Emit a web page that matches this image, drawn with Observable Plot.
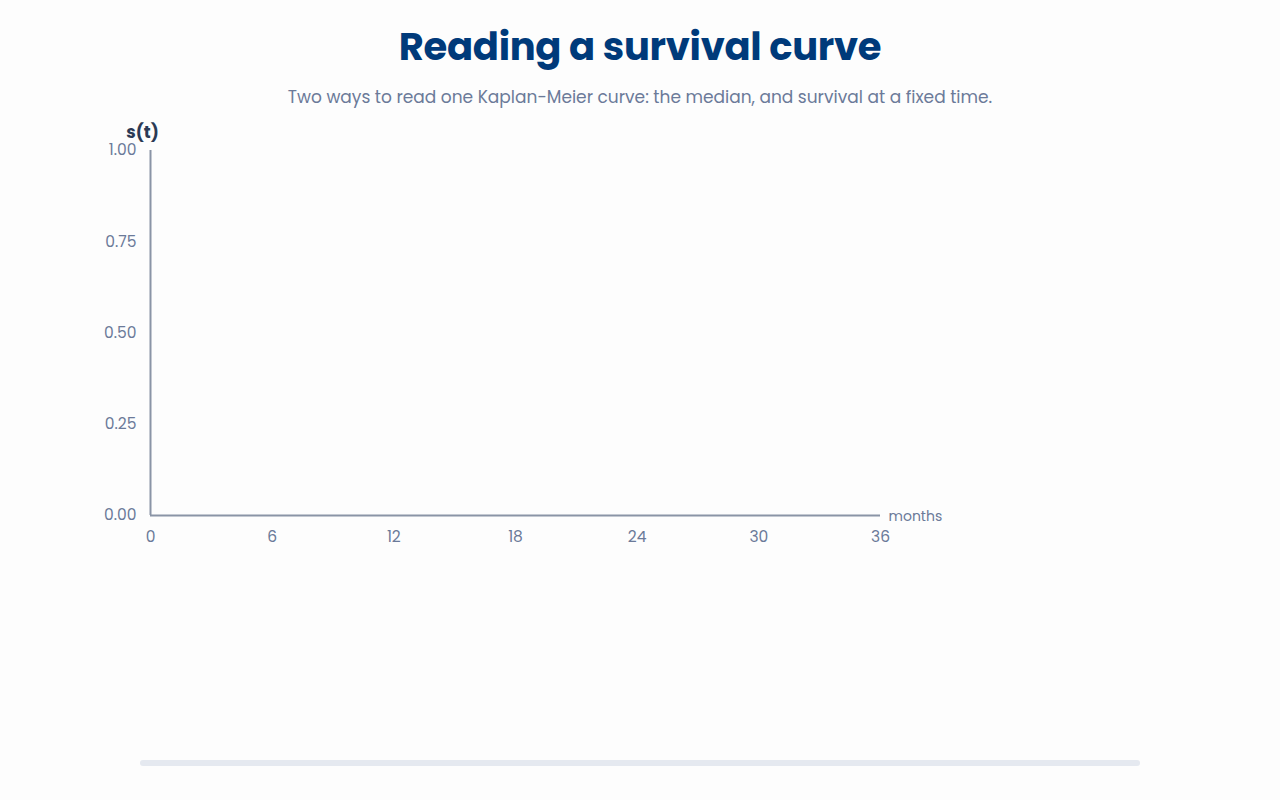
<!DOCTYPE html>
<html>
<head>
<meta charset="utf-8">
<script src="https://cdn.jsdelivr.net/npm/d3@7"></script>
<script src="https://cdn.jsdelivr.net/npm/@observablehq/plot@0.6"></script>
<style>
  html, body { margin: 0; padding: 0; background: #fdfdfd; width: 1280px; height: 800px; overflow: hidden; font-family: "Poppins", Inter, "Noto Sans", sans-serif; }
  #title { position: absolute; top: 22px; left: 0; width: 1280px; text-align: center; font-size: 38.5px; font-weight: 700; color: #003a7a; letter-spacing: -0.3px; line-height: 50px; }
  #subtitle { position: absolute; top: 84px; left: 0; width: 1280px; text-align: center; font-size: 17px; color: #6b7a99; line-height: 26px; }
  #chart { position: absolute; top: 110px; left: 0; }
  #scrub { position: absolute; top: 760px; left: 140px; width: 1000px; height: 6px; background: #e5e9f0; border-radius: 3px; }
</style>
</head>
<body>
<div id="title">Reading a survival curve</div>
<div id="subtitle">Two ways to read one Kaplan-Meier curve: the median, and survival at a fixed time.</div>
<div id="chart"></div>
<div id="scrub"></div>
<script>
// Data
const xTicks = [0, 6, 12, 18, 24, 30, 36];
const yTicks = [0, 0.25, 0.5, 0.75, 1];
const xDomain = [0, 36];
const yDomain = [0, 1];
const yLabel = "s(t)";
const xLabel = "months";
// The curve has not been drawn yet in the reference (empty state)
const survivalTime = [];
const survivalValue = [];

const curve = survivalTime.map((t, i) => ({t, s: survivalValue[i]}));

const axisColor = "#8a94a6";
const tickColor = "#6b7a99";

const chart = Plot.plot({
  width: 1280,
  height: 560,
  marginLeft: 150,
  marginRight: 400,
  marginTop: 40,
  marginBottom: 155,
  style: { fontFamily: '"Poppins", Inter, "Noto Sans", sans-serif', background: "transparent", overflow: "visible" },
  x: { domain: xDomain },
  y: { domain: yDomain },
  marks: [
    Plot.axisX({ ticks: xTicks, tickSize: 0, tickPadding: 15, label: null, fontSize: 15.5, color: tickColor, tickFormat: d => String(d) }),
    Plot.axisY({ ticks: yTicks, tickSize: 0, tickPadding: 14, label: null, fontSize: 15.5, color: tickColor, tickFormat: d3.format(".2f") }),
    Plot.ruleX([xDomain[0]], { y1: yDomain[0], y2: yDomain[1], stroke: axisColor, strokeWidth: 2 }),
    Plot.ruleY([yDomain[0]], { x1: xDomain[0], x2: xDomain[1], stroke: axisColor, strokeWidth: 2 }),
    Plot.line(curve, { x: "t", y: "s", stroke: "#003a7a", strokeWidth: 2.5, curve: "step-after" }),
    Plot.text([yLabel], { x: xDomain[0], y: yDomain[1], text: d => d, dx: -8, dy: -18, fontSize: 17, fontWeight: 700, fill: "#2b3a55" }),
    Plot.text([xLabel], { x: xDomain[1], y: yDomain[0], text: d => d, dx: 8, dy: 1, textAnchor: "start", fontSize: 14, fill: tickColor })
  ]
});
document.getElementById("chart").appendChild(chart);
</script>
</body>
</html>
